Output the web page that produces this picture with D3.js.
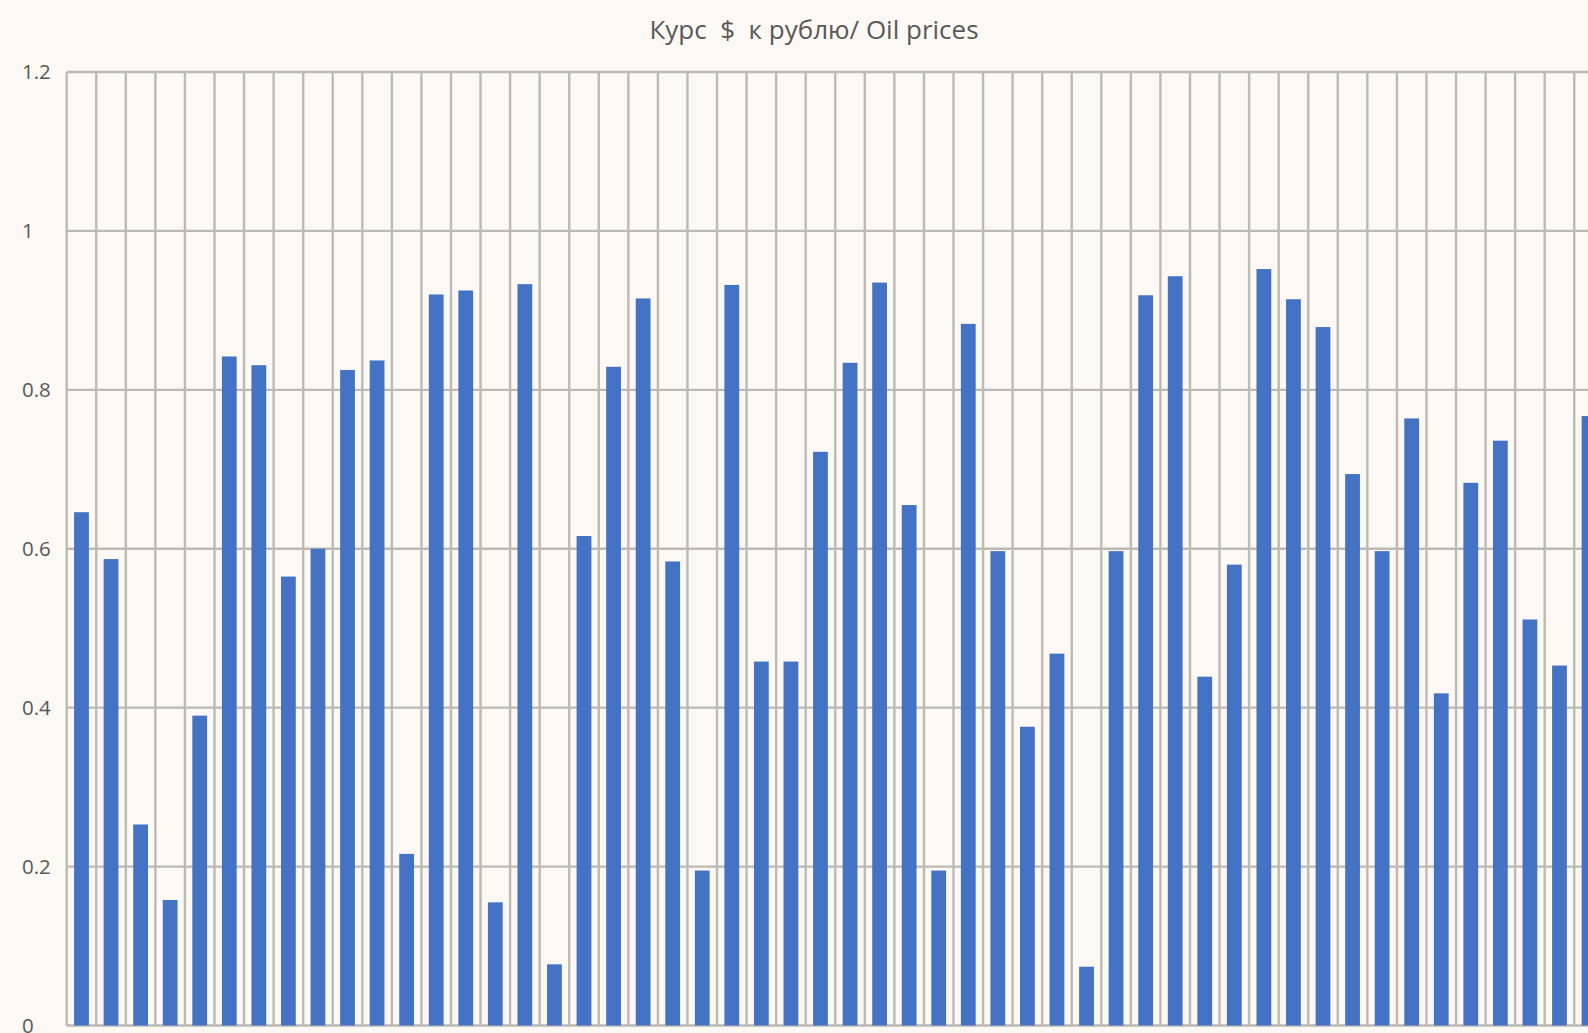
<!DOCTYPE html>
<html>
<head>
<meta charset="utf-8">
<script src="https://cdn.jsdelivr.net/npm/d3@7"></script>
<style>
  html, body { margin: 0; padding: 0; background: #fcf8f3; overflow: hidden; }
  svg { display: block; }
  text { font-family: "Open Sans", Lato, sans-serif; fill: #595959; }
</style>
</head>
<body>
<svg id="chart" width="1588" height="1033"></svg>
<script>
// Period numbers along the x axis
const categories = ["1","2","3","4","5","6","7","8","9","10","11","12","13","14","15","16","17","18","19","20",
  "21","22","23","24","25","26","27","28","29","30","31","32","33","34","35","36","37","38","39","40",
  "41","42","43","44","45","46","47","48","49","50","51","52"];

// Series values, one per period
const values = [0.646, 0.587, 0.253, 0.158, 0.390, 0.842, 0.831, 0.565, 0.600, 0.825,
  0.837, 0.216, 0.920, 0.925, 0.155, 0.933, 0.077, 0.616, 0.829, 0.915,
  0.584, 0.195, 0.932, 0.458, 0.458, 0.722, 0.834, 0.935, 0.655, 0.195,
  0.883, 0.597, 0.376, 0.468, 0.074, 0.597, 0.919, 0.943, 0.439, 0.580,
  0.952, 0.914, 0.879, 0.694, 0.597, 0.764, 0.418, 0.683, 0.736, 0.511,
  0.453, 0.767];

// Value axis ticks and their labels
const yTicks = [0, 0.2, 0.4, 0.6, 0.8, 1, 1.2];
const yTickLabels = ["0", "0.2", "0.4", "0.6", "0.8", "1", "1.2"];

const title = "Курс  $  к рублю/ Oil prices";

const svg = d3.select("#chart");
const plotLeft = 66.7, plotTop = 72, plotBottom = 1025.5;
const step = 29.56;
const plotRight = plotLeft + step * categories.length;

const x = d3.scaleBand()
  .domain(categories)
  .range([plotLeft, plotRight])
  .paddingInner(0.5)
  .paddingOuter(0.25);

const y = d3.scaleLinear()
  .domain([0, 1.2])
  .range([plotBottom, plotTop]);

const grid = svg.append("g").attr("class", "grid")
  .attr("stroke", "#bdb9b5")
  .attr("stroke-width", 2.4);

// horizontal gridlines at each value tick
grid.selectAll("line.h")
  .data(yTicks)
  .join("line")
  .attr("class", "h")
  .attr("x1", plotLeft)
  .attr("x2", plotRight)
  .attr("y1", d => y(d))
  .attr("y2", d => y(d));

// vertical gridlines on the category boundaries
const bounds = categories.map(c => x(c) - x.step() * x.paddingOuter());
bounds.push(plotRight);
grid.selectAll("line.v")
  .data(bounds)
  .join("line")
  .attr("class", "v")
  .attr("x1", d => d)
  .attr("x2", d => d)
  .attr("y1", plotTop)
  .attr("y2", plotBottom);

// bars
svg.append("g")
  .selectAll("rect")
  .data(values)
  .join("rect")
  .attr("x", (d, i) => x(categories[i]))
  .attr("width", x.bandwidth())
  .attr("y", d => y(d))
  .attr("height", d => y(0) - y(d))
  .attr("fill", "#4472c4");

// value axis labels
svg.append("g")
  .selectAll("text")
  .data(yTicks)
  .join("text")
  .attr("x", 22)
  .attr("y", d => y(d))
  .attr("dy", "0.36em")
  .attr("font-size", 20.5)
  .text((d, i) => yTickLabels[i]);

// chart title
svg.append("text")
  .attr("x", 814)
  .attr("y", 30)
  .attr("dy", "0.36em")
  .attr("text-anchor", "middle")
  .attr("font-size", 26)
  .attr("xml:space", "preserve")
  .style("white-space", "pre")
  .text(title);
</script>
</body>
</html>
